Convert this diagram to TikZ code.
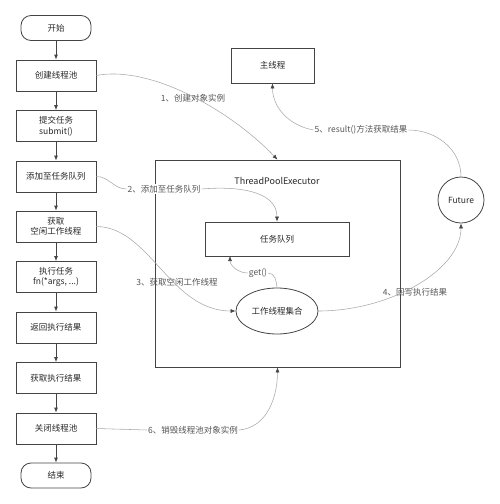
\documentclass[tikz,border=0pt]{standalone}
\usepackage{fontspec}
\setmainfont{Noto Sans CJK SC}
\usepackage{tikz}
\usetikzlibrary{arrows.meta,shapes,positioning}

\definecolor{boxline}{HTML}{444444}
\definecolor{connline}{HTML}{A8A8A8}
\definecolor{labtext}{HTML}{555555}

\tikzset{
    stepbox/.style={draw=boxline,line width=0.8pt,minimum width=80pt,minimum height=31pt,align=center,inner sep=1pt,font=\fontsize{8.5}{10.5}\selectfont,text=black!85},
    termbox/.style={stepbox,rounded corners=10pt,minimum width=70pt,minimum height=25pt},
    conn/.style={color=connline,line width=0.55pt},
    connlabel/.style={font=\fontsize{8.5}{10}\selectfont,text=labtext,inner sep=1pt},
}

\begin{document}
\begin{tikzpicture}[x=1pt,y=-1pt,>={Latex[length=5pt,width=4pt,color=boxline]}]
    \useasboundingbox (0,0) rectangle (500,504);
    % left column
    \node[termbox] (s1) at (56,28) {开始};
    \foreach \n/\y/\t in {2/75.5/创建线程池, 3/126/{提交任务\\submit()}, 4/176.5/添加至任务队列, 5/226.5/{获取\\空闲工作线程}, 6/277/{执行任务\\fn(*args, ...)}, 7/327.5/返回执行结果, 8/378/获取执行结果, 9/428.5/关闭线程池}
    	\node[stepbox] (s\n) at (56,\y) {\t};
    \node[termbox] (s10) at (56,475.5) {结束};
    \foreach \a/\b in {1/2, 2/3, 3/4, 4/5, 5/6, 6/7, 7/8, 8/9, 9/10}
    	\draw[->,color=boxline,line width=0.8pt] (s\a) -- (s\b);
    % right side
    \node[stepbox,minimum width=83pt,minimum height=35pt] (main) at (272.5,65.5) {主线程};
    \node[draw=boxline,line width=0.8pt,minimum width=245pt,minimum height=207pt,inner sep=0pt] (tpe) at (277.5,263.5) {};
    \node[font=\fontsize{9}{11}\selectfont,text=black!85] (tpelabel) at (277,181) {ThreadPoolExecutor};
    \node[stepbox,minimum width=144pt,minimum height=34pt] (queue) at (277,239) {任务队列};
    \node[stepbox,ellipse,minimum width=82pt,minimum height=46pt] (pool) at (277,311) {工作线程集合};
    \node[stepbox,circle,minimum width=46pt,minimum height=46pt] (future) at (461,200) {Future};
    \coordinate (qget) at (230,256);
    % connector labels
    \node[connlabel] (l1) at (193,98) {1、创建对象实例};
    \node[connlabel,fill=white] (l2) at (164,189) {2、添加至任务队列};
    \node[connlabel] (l3) at (177,282) {3、获取空闲工作线程};
    \node[connlabel] (l4) at (415,292) {4、回写执行结果};
    \node[connlabel,fill=white] (l5) at (361,130) {5、result()方法获取结果};
    \node[connlabel,fill=white] (l6) at (193,430) {6、销毁线程池对象实例};
    \node[connlabel,fill=white] (lget) at (258,273) {get()};
    % connectors
    \draw[conn,->] (s2.east) .. controls (150,65) and (230,110) .. (tpe.north);
    \draw[conn] (s4.east) to[out=0,in=180] (l2.west);
    \draw[conn,->] (l2.east) to[out=5,in=90] (queue.north);
    \draw[conn,->] (s5.east) .. controls (150,227) and (170,311) .. (pool.west);
    \draw[conn,->] (pool.east) .. controls (390,311) and (461,270) .. (future.south);
    \draw[conn] (future.north) to[out=90,in=0] (l5.east);
    \draw[conn,->] (l5.west) to[out=170,in=-90] (main.south);
    \draw[conn] (s9.east) -- (l6.west);
    \draw[conn,->] (l6.east) to[out=5,in=-90] (tpe.south);
    \draw[conn] (pool.north) to[out=95,in=0] (lget.east);
    \draw[conn,->] (lget.west) to[out=180,in=-90] (qget);
\end{tikzpicture}
\end{document}
